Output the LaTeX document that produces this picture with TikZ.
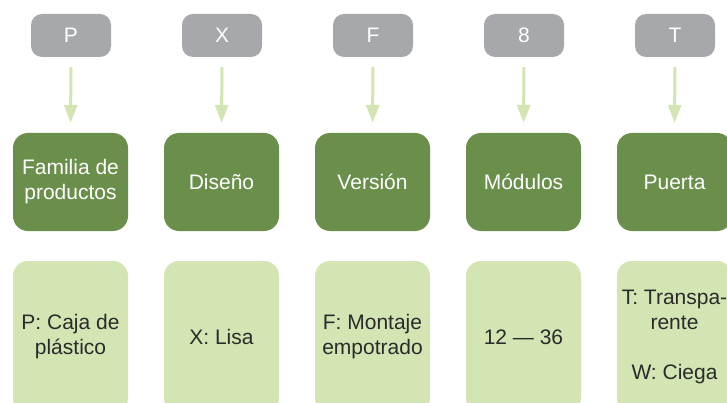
\documentclass[tikz,border=0pt]{standalone}
\usepackage{fontspec}
\setmainfont{Liberation Sans}
\usetikzlibrary{arrows.meta}
\definecolor{boxgrey}{HTML}{A6A8AB}
\definecolor{darkgreen}{HTML}{6A8F4B}
\definecolor{lightgreen}{HTML}{D2E5B3}
\definecolor{txtdark}{HTML}{2B2B2B}
\begin{document}
\begin{tikzpicture}[x=1pt,y=-1pt,
  codebox/.style={fill=boxgrey, rounded corners=11pt, minimum width=80pt, minimum height=43pt, text=white, inner sep=0pt},
  catbox/.style={fill=darkgreen, rounded corners=15pt, minimum width=115pt, minimum height=98pt, text=white, align=center, inner sep=0pt},
  valbox/.style={fill=lightgreen, rounded corners=15pt, minimum width=115pt, minimum height=152pt, text=txtdark, align=center, inner sep=0pt},
  conn/.style={draw=lightgreen, line width=3pt, -{Triangle[width=13pt,length=18pt]}, shorten <=10pt, shorten >=10pt},
  every node/.style={font=\fontsize{21pt}{25pt}\selectfont}]
\useasboundingbox (0,0) rectangle (727,403);
\clip (0,0) rectangle (727,403);
\fill[white] (0,0) rectangle (727,403);
% top code boxes
\node[codebox] (c1) at (71,35.5) {P};
\node[codebox] (c2) at (222,35.5) {X};
\node[codebox] (c3) at (373,35.5) {F};
\node[codebox] (c4) at (524,35.5) {8};
\node[codebox] (c5) at (675,35.5) {T};
% category boxes
\node[catbox] (m1) at (70.5,182) {Familia de\\productos};
\node[catbox] (m2) at (221.5,182) {Diseño};
\node[catbox] (m3) at (372.5,182) {Versión};
\node[catbox] (m4) at (523.5,182) {Módulos};
\node[catbox] (m5) at (674.5,182) {Puerta};
% value boxes
\node[valbox] (v1) at (70.5,337) {P: Caja de\\plástico};
\node[valbox] (v2) at (221.5,337) {X: Lisa};
\node[valbox] (v3) at (372.5,337) {F: Montaje\\empotrado};
\node[valbox] (v4) at (523.5,337) {12 — 36};
\node[valbox] (v5) at (674.5,337) {T: Transpa-\\rente\\[25pt]W: Ciega};
% connectors
\foreach \i in {1,...,5} \draw[conn] (c\i.south) -- (m\i.north);
\end{tikzpicture}
\end{document}
